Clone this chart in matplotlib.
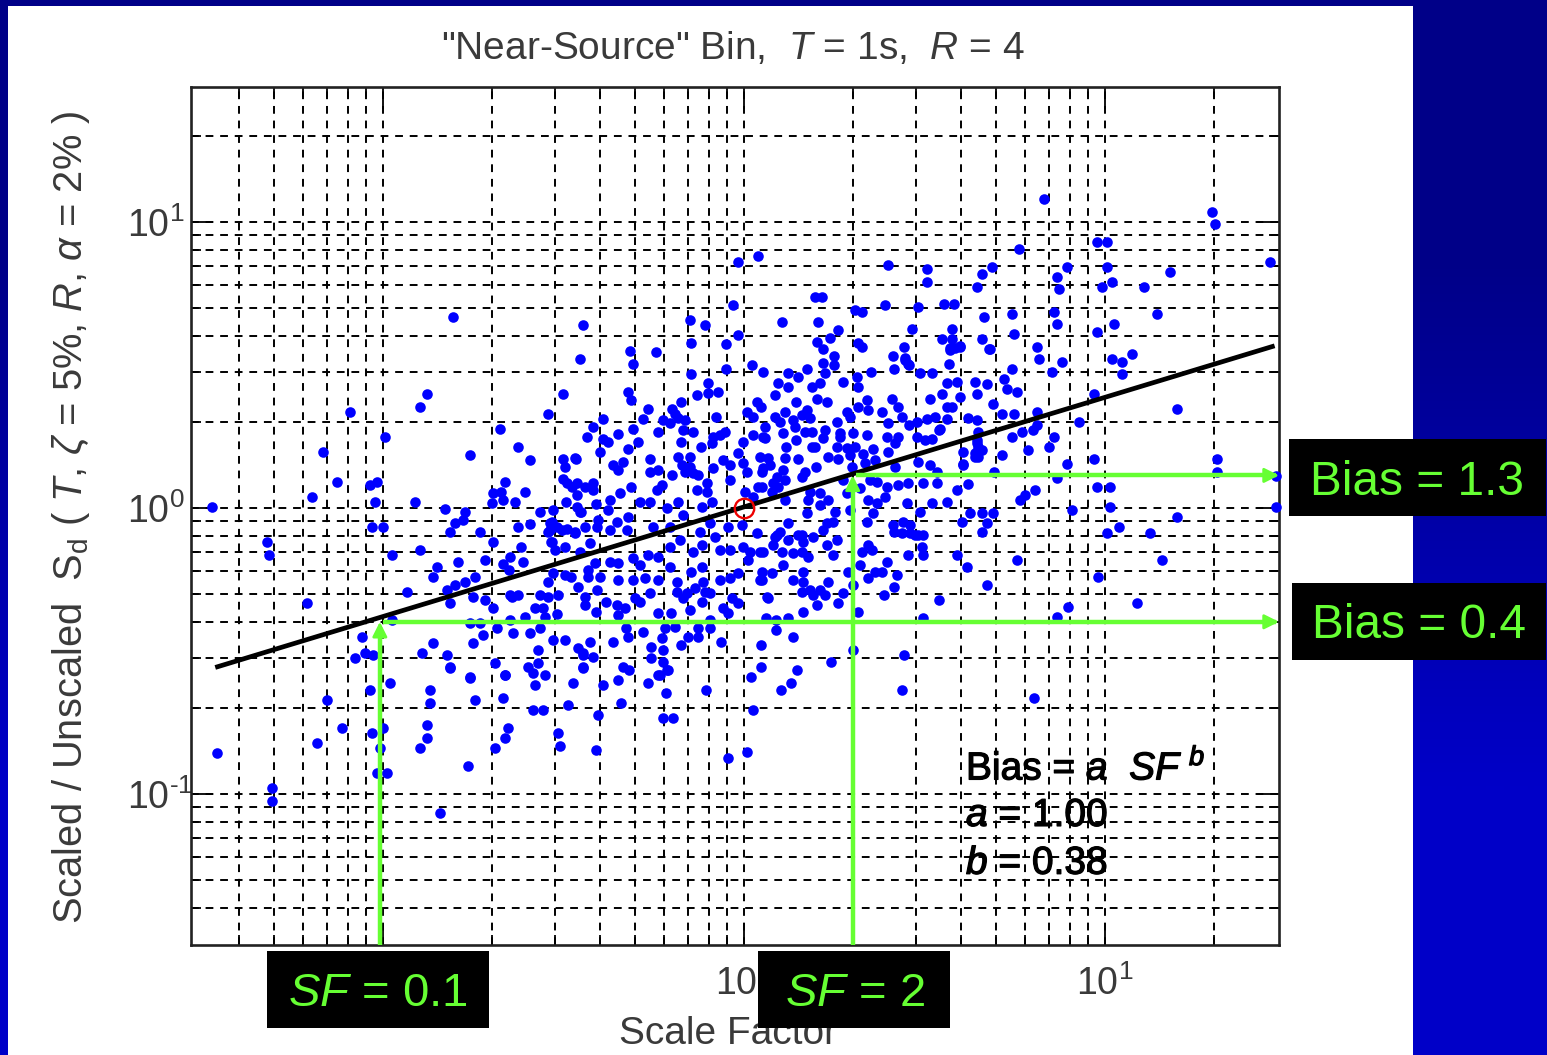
import matplotlib
matplotlib.use("Agg")
import matplotlib.pyplot as plt
import matplotlib.patheffects as pe
from matplotlib.patches import Rectangle
from matplotlib.ticker import FixedLocator, NullFormatter
import numpy as np

plt.rcParams["font.family"] = ["Liberation Sans", "DejaVu Sans"]
plt.rcParams["mathtext.fontset"] = "custom"
plt.rcParams["mathtext.rm"] = "Liberation Sans"
plt.rcParams["mathtext.it"] = "Liberation Sans:italic"
plt.rcParams["mathtext.bf"] = "Liberation Sans:bold"

# (log10 scale factor, log10 scaled/unscaled Sd)
log_points = [
    (-0.878,0.399),(-0.898,0.353),(-1.091,0.336),(-0.994,0.248),(-1.166,0.196),(-1.127,0.091),(-1.197,0.038),
    (-1.036,0.08),(-1.017,0.091),(-1.022,0.021),(-1.474,0.003),(-0.911,0.021),(-0.828,-0.003),(-1.03,-0.066),
    (-1.0,-0.066),(-1.321,-0.119),(-1.316,-0.164),(-0.975,-0.164),(-0.898,-0.147),(-0.85,-0.206),(-0.861,-0.241),
    (-1.21,-0.332),(-0.934,-0.294),(-0.792,-0.189),(-0.717,-0.182),(-0.731,-0.084),(-0.814,-0.084),(-0.773,-0.014),
    (-0.778,-0.042),(-0.8,-0.052),(-0.676,0.276),(-0.759,0.185),(-0.626,0.213),(-0.593,0.168),(-0.543,0.329),
    (-0.501,0.399),(-0.501,0.171),(-0.465,0.171),(-0.496,0.143),(-0.435,0.248),(-0.662,0.091),(-0.695,0.052),
    (-0.673,0.056),(-0.698,0.017),(-0.668,0.028),(-0.607,0.056),(-0.634,0.021),(-0.501,0.101),(-0.49,0.087),
    (-0.476,0.073),(-0.463,0.045),(-0.463,0.087),(-0.44,0.073),(-0.493,0.021),(-0.463,0.003),(-0.452,-0.014),
    (-0.565,-0.014),(-0.529,-0.007),(-0.593,-0.056),(-0.626,-0.066),(-0.537,-0.052),(-0.543,-0.084),(-0.518,-0.066),
    (-0.49,-0.073),(-0.468,-0.084),(-0.44,-0.066),(-0.535,-0.119),(-0.524,-0.147),(-0.496,-0.136),(-0.618,-0.136),
    (-0.695,-0.119),(-0.648,-0.171),(-0.668,-0.196),(-0.651,-0.217),(-0.612,-0.189),(-0.529,-0.227),(-0.496,-0.234),
    (-0.479,-0.241),(-0.543,-0.259),(-0.46,-0.276),(-0.745,-0.241),(-0.773,-0.259),(-0.8,-0.269),(-0.823,-0.287),
    (-0.751,-0.311),(-0.814,-0.332),(-0.717,-0.322),(-0.695,-0.35),(-0.648,-0.304),(-0.643,-0.311),(-0.626,-0.304),
    (-0.565,-0.304),(-0.543,-0.311),(-0.515,-0.304),(-0.579,-0.35),(-0.557,-0.35),(-0.44,-0.311),(-0.44,-0.339),
    (-0.607,-0.381),(-0.551,-0.381),(-0.518,-0.371),(-0.648,-0.392),(-0.759,-0.402),(-0.731,-0.402),(-0.975,-0.392),
    (-0.684,-0.42),(-0.64,-0.437),(-0.593,-0.437),(-0.565,-0.42),(-0.723,-0.444),(-0.751,-0.472),(-0.861,-0.472),
    (-1.058,-0.451),(-1.05,-0.507),(-1.078,-0.524),(-1.028,-0.514),(-0.892,-0.507),(-0.823,-0.514),(-0.814,-0.556),
    (-0.69,-0.542),(-0.759,-0.591),(-0.662,-0.584),(-0.529,-0.462),(-0.496,-0.462),(-0.571,-0.497),(-0.46,-0.49),
    (-0.446,-0.514),(-0.446,-0.556),(-0.598,-0.556),(-0.571,-0.542),(-0.584,-0.577),(-0.551,-0.584),
    (-1.46,-0.857),(-1.307,-0.979),(-1.307,-1.024),(-1.183,-0.822),(-1.155,-0.671),(-1.114,-0.769),(-1.036,-0.636),
    (-0.981,-0.612),(-1.03,-0.787),(-1.0,-0.769),(-1.008,-0.839),(-1.017,-0.927),(-0.989,-0.927),(-0.898,-0.839),
    (-0.878,-0.804),(-0.878,-0.759),(-0.87,-0.682),(-0.87,-0.636),(-0.842,-1.066),(-0.814,-0.559),(-0.765,-0.902),
    (-0.745,-0.671),(-0.759,-0.594),(-0.69,-0.839),(-0.662,-0.804),(-0.654,-0.769),(-0.668,-0.664),(-0.662,-0.584),
    (-0.584,-0.706),(-0.557,-0.706),(-0.515,-0.787),(-0.51,-0.832),(-0.488,-0.689),(-0.474,-0.612),(-0.446,-0.559),
    (-0.41,-0.846),(-0.404,-0.724),(-0.391,-0.619),(-0.349,-0.601),(-0.335,-0.556),(-0.319,-0.566),(-0.341,-0.682),
    (-0.266,-0.612),(-0.233,-0.584),(-0.211,-0.566),(-0.216,-0.647),(-0.224,-0.734),(-0.197,-0.734),(-0.579,-0.619),
    (0.008,-0.853),(-0.044,-0.874),
    (-0.454,0.521),(-0.244,0.545),(-0.307,0.503),(-0.147,0.577),(-0.05,0.573),(-0.147,0.469),(-0.05,0.486),
    (0.053,0.476),(-0.321,0.406),(-0.313,0.378),(-0.1,0.437),(-0.13,0.395),(-0.1,0.402),(-0.072,0.406),(-0.175,0.371),
    (-0.266,0.346),(-0.28,0.311),(-0.199,0.346),(-0.191,0.329),(-0.224,0.308),(-0.205,0.297),(-0.183,0.315),
    (-0.163,0.308),(-0.169,0.273),(-0.141,0.266),(-0.238,0.266),(-0.391,0.311),(-0.418,0.283),(-0.349,0.259),
    (-0.307,0.276),(-0.391,0.241),(-0.377,0.231),(-0.294,0.231),(-0.321,0.206),(-0.399,0.196),(-0.175,0.231),
    (-0.119,0.213),(-0.078,0.318),(-0.086,0.248),(-0.066,0.255),(-0.053,0.266),(-0.089,0.227),(0.008,0.336),
    (0.036,0.371),(0.047,0.353),(0.025,0.318),(0.058,0.283),(0.025,0.255),(-0.003,0.231),(0.053,0.248),(-0.468,0.175),
    (-0.363,0.15),(-0.349,0.133),(-0.335,0.161),(-0.26,0.171),(-0.26,0.126),(-0.238,0.133),(-0.183,0.178),(-0.15,0.178),
    (-0.172,0.15),(-0.15,0.143),(-0.163,0.126),(-0.141,0.122),(-0.127,0.115),(-0.199,0.115),(-0.058,0.168),(-0.017,0.192),
    (-0.039,0.15),(-0.003,0.157),(0.008,0.126),(0.044,0.178),(0.05,0.126),(-0.086,0.14),(-0.418,0.087),(-0.418,0.063),
    (-0.343,0.052),(-0.313,0.073),(-0.227,0.08),(-0.241,0.063),(-0.102,0.087),(-0.13,0.063),(-0.102,0.056),(-0.039,0.098),
    (0.003,0.056),(0.039,0.073),(0.025,0.038),(-0.454,-0.014),(-0.41,0.014),(-0.371,0.028),(-0.377,-0.007),(-0.288,0.021),
    (-0.26,0.021),(-0.213,0.0),(-0.183,0.021),(-0.116,0.003),(-0.089,0.021),(-0.532,-0.049),(-0.537,-0.077),(-0.504,-0.077),
    (-0.468,-0.087),(-0.404,-0.042),(-0.407,-0.066),(-0.371,-0.077),(-0.352,-0.049),(-0.321,-0.031),(-0.324,-0.077),
    (-0.252,-0.066),(-0.205,-0.066),(-0.169,-0.024),(-0.122,-0.084),(-0.094,-0.052),(-0.044,-0.066),(-0.006,-0.059),
    (0.036,-0.087),
    (-0.532,-0.119),(-0.427,-0.122),(-0.454,-0.154),(-0.413,-0.192),(-0.349,-0.192),(-0.371,-0.189),(-0.307,-0.175),
    (-0.288,-0.199),(-0.266,-0.164),(-0.238,-0.171),(-0.205,-0.136),(-0.177,-0.112),(-0.141,-0.154),(-0.116,-0.129),
    (-0.08,-0.101),(-0.066,-0.147),(-0.039,-0.147),(-0.003,-0.136),(0.017,-0.154),(0.044,-0.154),(-0.205,-0.206),
    (-0.147,-0.224),(-0.116,-0.206),(0.011,-0.182),(-0.432,-0.217),(-0.432,-0.241),(-0.399,-0.241),(-0.407,-0.287),
    (-0.349,-0.252),(-0.307,-0.252),(-0.274,-0.245),(-0.238,-0.252),(-0.186,-0.259),(-0.136,-0.28),(-0.158,-0.297),
    (-0.114,-0.259),(-0.108,-0.294),(-0.066,-0.252),(-0.039,-0.245),(-0.017,-0.227),(0.044,-0.252),(-0.094,-0.297),
    (-0.26,-0.297),(-0.186,-0.294),(-0.169,-0.315),(-0.15,-0.357),(-0.116,-0.329),(-0.033,-0.315),(-0.017,-0.332),
    (0.064,-0.311),(-0.41,-0.364),(-0.382,-0.329),(-0.352,-0.339),(-0.33,-0.35),(-0.302,-0.315),(-0.349,-0.374),
    (-0.288,-0.329),(-0.238,-0.367),(-0.202,-0.367),(-0.058,-0.35),(-0.044,-0.367),(-0.094,-0.392),(-0.094,-0.42),
    (-0.327,-0.42),(-0.28,-0.434),(-0.321,-0.451),(-0.219,-0.42),(-0.191,-0.416),(-0.127,-0.42),(-0.227,-0.455),
    (-0.224,-0.497),(-0.258,-0.486),(-0.258,-0.524),(-0.155,-0.451),(-0.127,-0.451),(-0.175,-0.479),(-0.064,-0.469),
    (0.047,-0.479),(-0.427,-0.469),(-0.363,-0.469),(-0.446,-0.507),(-0.418,-0.521),(-0.224,-0.538),(-0.213,-0.566),
    (-0.238,-0.584),(-0.105,-0.636),(0.019,-0.591),(0.047,-0.556),(0.025,-0.706),
    (0.202,0.58),(0.219,0.556),(0.249,0.531),(0.219,0.507),(0.249,0.5),(0.224,0.472),(0.175,0.486),(0.316,0.577),
    (0.327,0.563),(0.443,0.563),(0.413,0.531),(0.446,0.524),(0.457,0.5),(0.416,0.486),(0.571,0.559),(0.598,0.563),
    (0.568,0.503),(0.681,0.556),(0.122,0.472),(0.15,0.458),(0.352,0.476),(0.488,0.472),(0.521,0.472),(0.313,0.458),
    (0.274,0.44),(0.316,0.423),(0.094,0.437),(0.122,0.423),(0.086,0.395),(0.188,0.423),(0.211,0.437),(0.562,0.437),
    (0.59,0.44),(0.64,0.44),(0.673,0.434),(0.598,0.388),(0.645,0.399),(0.548,0.399),(0.515,0.381),(0.562,0.353),
    (0.576,0.353),(0.69,0.364),(0.202,0.381),(0.23,0.371),(0.144,0.371),(0.41,0.381),(0.427,0.353),(0.438,0.318),
    (0.341,0.378),(0.316,0.353),(0.343,0.343),(0.285,0.336),(0.294,0.318),(0.382,0.336),(0.114,0.336),(0.086,0.318),
    (0.1,0.301),(0.108,0.262),(0.175,0.343),(0.161,0.325),(0.136,0.308),(0.141,0.283),(0.183,0.315),(0.258,0.301),
    (0.399,0.297),(0.479,0.301),(0.507,0.311),(0.529,0.318),(0.562,0.311),(0.62,0.315),(0.645,0.308),(0.543,0.276),
    (0.058,0.245),(0.169,0.266),(0.188,0.266),(0.224,0.273),(0.266,0.262),(0.219,0.245),(0.302,0.262),(0.341,0.255),
    (0.144,0.238),(0.116,0.213),(0.188,0.213),(0.197,0.213),(0.396,0.248),(0.427,0.248),(0.418,0.227),(0.399,0.196),
    (0.479,0.248),(0.521,0.241),(0.501,0.238),(0.266,0.248),(0.258,0.213),(0.285,0.21),(0.307,0.213),(0.294,0.185),
    (0.357,0.206),(0.33,0.189),(0.233,0.178),(0.26,0.171),(0.645,0.238),(0.648,0.213),(0.64,0.192),(0.648,0.178),
    (0.607,0.196),(0.607,0.15),(0.482,0.161),(0.515,0.15),(0.535,0.126),(0.114,0.175),(0.15,0.171),(0.108,0.133),
    (0.066,0.175),(0.053,0.14),(0.072,0.15),(0.199,0.143),(0.169,0.126),(0.161,0.108),(0.299,0.143),(0.335,0.157),
    (0.363,0.168),(0.418,0.143),(0.396,0.073),(0.091,0.108),(0.114,0.098),(0.08,0.087),(0.078,0.056),(0.094,0.073),
    (0.114,0.028),(0.05,0.073),(0.183,0.056),(0.211,0.052),(0.177,0.028),(0.233,0.028),(0.211,0.01),(0.285,0.052),
    (0.274,0.098),(0.349,0.098),(0.368,0.091),(0.321,0.07),(0.343,0.028),(0.368,0.017),(0.357,-0.017),(0.341,-0.049),
    (0.427,0.08),(0.454,0.087),(0.496,0.087),(0.535,0.087),(0.39,0.038),(0.62,0.084),(0.59,0.063),(0.452,0.017),
    (0.521,0.017),(0.562,0.021),(0.488,-0.014),(0.604,-0.049),(0.626,-0.017),(0.659,-0.017),(0.69,-0.017),(0.673,-0.052),
    (0.659,-0.084),(0.175,-0.017),(0.23,-0.052),(0.219,-0.077),(0.247,-0.049),(0.252,-0.014),(0.294,-0.007),(0.122,-0.052),
    (0.1,-0.084),(0.086,-0.101),(0.161,-0.094),(0.413,-0.059),(0.44,-0.049),(0.46,-0.059),(0.474,-0.094),(0.438,-0.087),
    (0.091,-0.094),(0.15,-0.094),(0.163,-0.119),(0.191,-0.101),(0.08,-0.129),(0.122,-0.112),(0.053,-0.154),(0.105,-0.154),
    (0.136,-0.157),(0.161,-0.154),(0.177,-0.171),(0.23,-0.129),(0.258,-0.112),(0.247,-0.164),(0.108,-0.199),(0.05,-0.224),
    (0.05,-0.252),(0.078,-0.227),(0.136,-0.252),(0.163,-0.224),(0.163,-0.259),(0.233,-0.259),(0.161,-0.294),(0.183,-0.287),
    (0.211,-0.287),(0.191,-0.304),(0.202,-0.339),(0.224,-0.304),(0.274,-0.297),(0.26,-0.332),(0.066,-0.315),(0.288,-0.224),
    (0.302,-0.269),(0.163,-0.364),(0.061,-0.385),(0.089,-0.392),(0.122,-0.385),(0.089,-0.427),(0.136,-0.451),(0.147,-0.566),
    (0.13,-0.612),(0.102,-0.636),(0.241,-0.538),(0.302,-0.497),(0.316,-0.364),(0.343,-0.129),(0.327,-0.154),(0.355,-0.147),
    (0.321,-0.199),(0.396,-0.189),(0.343,-0.245),(0.363,-0.224),(0.382,-0.224),(0.424,-0.234),(0.416,-0.276),(0.388,-0.304),
    (0.416,-0.084),(0.46,-0.087),(0.482,-0.094),(0.496,-0.094),(0.493,-0.136),(0.454,-0.164),(0.496,-0.164),(0.59,-0.164),
    (0.618,-0.206),(0.673,-0.269),(0.54,-0.322),(0.496,-0.385),(0.443,-0.514),(0.438,-0.636),
    (0.831,1.08),(1.296,1.035),(1.305,0.993),(0.978,0.931),(1.006,0.931),(0.762,0.906),(1.006,0.843),(0.895,0.843),
    (0.687,0.843),(0.659,0.818),(0.645,0.773),(0.507,0.836),(0.507,0.79),(0.867,0.808),(0.873,0.766),(0.992,0.773),
    (1.019,0.79),(1.108,0.773),(1.18,0.825),(1.457,0.86),(1.144,0.678),(1.025,0.643),(0.978,0.615),(0.867,0.643),
    (0.859,0.685),(0.742,0.678),(0.748,0.608),(0.665,0.668),(0.482,0.703),(0.554,0.713),(0.582,0.713),(0.465,0.626),
    (0.576,0.626),(0.548,0.591),(0.576,0.591),(0.598,0.566),(0.571,0.552),(0.584,0.559),(0.659,0.591),(0.679,0.556),
    (0.812,0.563),(0.817,0.521),(1.075,0.538),(1.019,0.521),(1.047,0.51),(1.047,0.469),(0.881,0.51),(0.853,0.476),
    (0.742,0.486),(0.446,0.517),(0.454,0.503),(0.72,0.451),(0.729,0.416),(0.756,0.406),(0.97,0.399),(0.812,0.336),
    (0.715,0.329),(0.748,0.329),(0.928,0.301),(0.812,0.29),(0.801,0.273),(0.77,0.266),(0.742,0.248),(0.859,0.248),
    (0.845,0.213),(0.787,0.203),(0.715,0.185),(0.895,0.154),(0.97,0.171),(1.199,0.346),(1.31,0.171),(1.31,0.126),
    (0.648,0.266),(0.645,0.227),(0.648,0.203),(0.64,0.178),(0.607,0.154),(0.659,0.203),(0.693,0.126),(0.54,0.273),
    (0.457,0.29),
    (1.474,0.003),(1.474,0.112),(0.909,-0.007),(1.014,0.003),(1.039,-0.066),(1.006,-0.087),(1.199,-0.031),(1.125,-0.087),
    (1.158,-0.182),(0.981,-0.241),(1.089,-0.332),(0.898,-0.346),(0.867,-0.381),(0.803,-0.664),(0.756,-0.182),(0.978,0.073),
    (1.014,0.073),(0.778,0.045),(0.806,0.063),(0.765,0.028),(0.867,0.105),
    (-0.806,0.668),(-0.017,0.86),(0.039,0.881),(-0.03,0.71),(-0.017,0.605),(-0.15,0.657),(-0.108,0.64),(-0.316,0.549),
    (-0.446,0.64),(0.197,0.738),(0.216,0.738),(0.205,0.65),(0.105,0.65),(0.307,0.692),(0.327,0.685),(0.391,0.71),
    (0.399,0.85),(0.238,0.594),(0.26,0.622),(0.022,0.5),
]

# fitted line ends, Bias = a SF^b
fit_sf = [0.0343, 29.5]
fit_bias = [0.277, 3.69]

# the two worked examples marked in green
example_sf = [0.098, 2.0]
example_bias = [0.4, 1.3]
example_sf_labels = ["0.1", "2"]
example_bias_labels = ["0.4", "1.3"]

x_major = [0.1, 1, 10]
y_major = [0.1, 1, 10]
x_minor = [0.04, 0.05, 0.06, 0.07, 0.08, 0.09, 0.2, 0.3, 0.4, 0.5, 0.6, 0.7, 0.8, 0.9,
           2, 3, 4, 5, 6, 7, 8, 9, 20]
y_minor = x_minor
y_major_labels = ["10$^{\\mathregular{\u2010}\\mathregular{1}}$", r"10$^{\mathregular{0}}$", r"10$^{\mathregular{1}}$"]
# the 10^-1 label sits behind the SF = 0.1 box in the original
x_major_labels = ["", r"10$^{\mathregular{0}}$", r"10$^{\mathregular{1}}$"]

GREEN = "#66FF33"
NAVY = "#000099"
TEXT = "#3a3a3a"

W, H = 1547, 1055
fig = plt.figure(figsize=(W / 100, H / 100), dpi=100)
fig.patch.set_facecolor(NAVY)


def px_box(x0, y0, x1, y1, color, zorder):
    r = Rectangle((x0 / W, 1 - y1 / H), (x1 - x0) / W, (y1 - y0) / H, transform=fig.transFigure,
                  facecolor=color, edgecolor="none", zorder=zorder)
    fig.add_artist(r)


# slide background: blue gets lighter towards the bottom
bg = fig.add_axes([0, 0, 1, 1], zorder=-5)
bg.imshow(np.array([[0.0], [1.0]]), cmap=matplotlib.colors.LinearSegmentedColormap.from_list("s", ["#000088", "#0000C8"]),
          aspect="auto", extent=(0, 1, 0, 1), origin="upper", interpolation="bilinear")
bg.axis("off")
px_box(8, 6, 1413, H, "white", -4)

ax = fig.add_axes([191 / W, 1 - 945 / H, 1088 / W, 858 / H])
ax.set_xscale("log")
ax.set_yscale("log")
ax.set_xlim(10 ** -1.5319, 10 ** 1.482)
ax.set_ylim(10 ** -1.528, 10 ** 1.472)

ax.xaxis.set_major_locator(FixedLocator(x_major))
ax.yaxis.set_major_locator(FixedLocator(y_major))
ax.xaxis.set_minor_locator(FixedLocator(x_minor))
ax.yaxis.set_minor_locator(FixedLocator(y_minor))
ax.xaxis.set_minor_formatter(NullFormatter())
ax.yaxis.set_minor_formatter(NullFormatter())
ax.set_xticklabels(x_major_labels)
ax.set_yticklabels(y_major_labels)
ax.grid(True, which="both", color="black", lw=1.4, ls=(0, (4, 3.5)), zorder=0)
ax.set_axisbelow(True)
ax.tick_params(which="major", direction="in", length=16, width=1.3, top=True, right=True,
               labelsize=27, labelcolor=TEXT)
ax.tick_params(axis="x", which="major", pad=15)
ax.tick_params(axis="y", which="major", pad=46)
ax.tick_params(which="minor", direction="in", length=7, width=1.3, top=True, right=True)
for label in ax.get_yticklabels():
    label.set_ha("left")
for s in ax.spines.values():
    s.set_linewidth(1.9)
    s.set_color("#222222")

log_sf, log_ratio = zip(*log_points)
ax.scatter(10 ** np.array(log_sf), 10 ** np.array(log_ratio), s=58, color="#0000FF", linewidths=0, zorder=3, clip_on=False)
ax.plot(fit_sf, fit_bias, color="black", lw=3.4, zorder=4, solid_capstyle="butt")
ax.plot([1], [1], "o", mfc="none", mec="#EE0000", mew=1.7, ms=14, zorder=5)

# green guides, vertical from the axis up to the fit, then across to the right edge
xmax = ax.get_xlim()[1]
ymin = ax.get_ylim()[0]
for sf, bias in zip(example_sf, example_bias):
    ax.plot([sf, sf], [ymin, bias * 0.96], color=GREEN, lw=3.2, zorder=6, solid_capstyle="butt")
    ax.plot([sf * 1.02, xmax * 0.98], [bias, bias], color=GREEN, lw=3.2, zorder=6, solid_capstyle="butt")
    ax.annotate("", xy=(sf, bias), xytext=(sf, bias * 0.93), zorder=7,
                arrowprops=dict(arrowstyle="-|>", color=GREEN, lw=2, mutation_scale=22, shrinkA=0, shrinkB=0))
    ax.annotate("", xy=(xmax, bias), xytext=(xmax * 0.95, bias), zorder=7, annotation_clip=False,
                arrowprops=dict(arrowstyle="-|>", color=GREEN, lw=2, mutation_scale=22, shrinkA=0, shrinkB=0))

fig.text(733 / W, 1 - 48 / H, r'"Near-Source" Bin,  $\mathit{T}$ = 1s,  $\mathit{R}$ = 4', fontsize=28, color=TEXT,
         ha="center", va="center")
fig.text(71 / W, 1 - 517 / H,
         r"Scaled / Unscaled  $\mathregular{S_d}$ ( $\mathit{T}$, $\zeta$ = 5%, $\mathit{R}$, $\alpha$ = 2% )",
         fontsize=28.7, color=TEXT, rotation=90, ha="center", va="center")
fig.text(728 / W, 1 - 1034 / H, "Scale Factor", fontsize=28, color=TEXT, ha="center", va="center")

stroke = [pe.withStroke(linewidth=0.9, foreground="black")]
for ypx, label in [(768, r"Bias = $\mathit{a}$  $\mathit{SF}^{\ \mathit{b}}$"),
                   (816, r"$\mathit{a}$ = 1.00"),
                   (864, r"$\mathit{b}$ = 0.38")]:
    fig.text(966 / W, 1 - ypx / H, label, fontsize=28, color="black", ha="left", va="center", path_effects=stroke, zorder=8)

px_box(267, 951, 489, 1028, "black", 20)
px_box(758, 951, 950, 1028, "black", 20)
px_box(1289, 439, 1546, 516, "black", 20)
px_box(1292, 583, 1546, 660, "black", 20)
fig.text(378 / W, 1 - 994 / H, rf"$\mathit{{SF}}$ = {example_sf_labels[0]}", fontsize=34, color=GREEN,
         ha="center", va="center", zorder=21)
fig.text(855 / W, 1 - 994 / H, rf"$\mathit{{SF}}$ = {example_sf_labels[1]}", fontsize=34, color=GREEN,
         ha="center", va="center", zorder=21)
fig.text(1417 / W, 1 - 482 / H, f"Bias = {example_bias_labels[1]}", fontsize=34.4, color=GREEN,
         ha="center", va="center", zorder=21)
fig.text(1419 / W, 1 - 626 / H, f"Bias = {example_bias_labels[0]}", fontsize=34.4, color=GREEN,
         ha="center", va="center", zorder=21)

fig.savefig("out.png", dpi=100, facecolor=fig.get_facecolor())
